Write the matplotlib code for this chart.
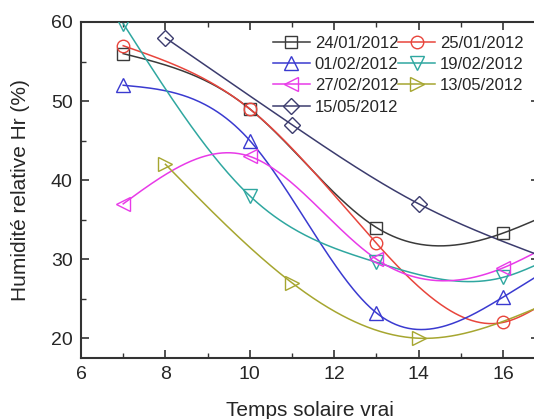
import numpy as np
import matplotlib
matplotlib.use("Agg")
import matplotlib.pyplot as plt
from matplotlib.ticker import MultipleLocator

# ---- data ----
labels = ["24/01/2012", "25/01/2012", "01/02/2012", "19/02/2012",
          "27/02/2012", "13/05/2012", "15/05/2012"]
x_a = [7, 10, 13, 16, 17]
x_b = [8, 11, 14, 17]
h_2401 = [56, 49, 34, 33.3, 35.5]
h_2501 = [57, 49, 32, 22, 24.5]
h_0102 = [52, 45, 23.2, 25.2, 28.5]
h_1902 = [59.8, 38, 29.6, 27.7, 29.8]
h_2702 = [37, 43, 30, 28.9, 31.5]
h_1305 = [42, 27, 20, 24.3]
h_1505 = [58, 47, 37, 30.2]

series = [
    (x_a, h_2401, "s", "#3a3a3a"),
    (x_a, h_2501, "o", "#e8453c"),
    (x_a, h_0102, "^", "#3a3ad0"),
    (x_a, h_1902, "v", "#2fa7a0"),
    (x_a, h_2702, "<", "#e83ae8"),
    (x_b, h_1305, ">", "#a6a630"),
    (x_b, h_1505, "D", "#3c3c6e"),
]


def natural_spline(x, y, n=300):
    x = np.asarray(x, float)
    y = np.asarray(y, float)
    k = len(x)
    h = np.diff(x)
    A = np.zeros((k, k))
    b = np.zeros(k)
    A[0, 0] = 1
    A[-1, -1] = 1
    for i in range(1, k - 1):
        A[i, i - 1] = h[i - 1]
        A[i, i] = 2 * (h[i - 1] + h[i])
        A[i, i + 1] = h[i]
        b[i] = 6 * ((y[i + 1] - y[i]) / h[i] - (y[i] - y[i - 1]) / h[i - 1])
    M = np.linalg.solve(A, b)
    xs = np.linspace(x[0], x[-1], n)
    ys = np.empty_like(xs)
    for j, xv in enumerate(xs):
        i = min(np.searchsorted(x, xv, side="right") - 1, k - 2)
        i = max(i, 0)
        t1 = x[i + 1] - xv
        t0 = xv - x[i]
        ys[j] = (M[i] * t1 ** 3 / (6 * h[i]) + M[i + 1] * t0 ** 3 / (6 * h[i])
                 + (y[i] / h[i] - M[i] * h[i] / 6) * t1
                 + (y[i + 1] / h[i] - M[i + 1] * h[i] / 6) * t0)
    return xs, ys


plt.rcParams["font.family"] = ["Liberation Sans", "DejaVu Sans"]
txt = "#262626"

fig = plt.figure(figsize=(5.34, 4.19), dpi=100)
ax = fig.add_axes([81 / 534, 61 / 419, 458 / 534, 336 / 419])

handles = []
for (xs, ys, mk, col), lab in zip(series, labels):
    sx, sy = natural_spline(xs, ys)
    ax.plot(sx, sy, color=col, lw=1.1, zorder=2)
    ms = 9 if mk in ("s", "o") else (8 if mk == "D" else 10)
    ax.plot(xs, ys, linestyle="none", marker=mk, ms=ms, mfc="none",
            mec=col, mew=1.0, zorder=3, clip_on=True)
    h, = ax.plot([], [], color=col, lw=1.1, marker=mk, ms=ms, mfc="none",
                 mec=col, mew=1.0, label=lab)
    handles.append(h)

ax.set_xlim(6, 16.85)
ax.set_ylim(17.5, 60)
ax.xaxis.set_major_locator(MultipleLocator(2))
ax.xaxis.set_minor_locator(MultipleLocator(1))
ax.yaxis.set_major_locator(MultipleLocator(10))
ax.yaxis.set_minor_locator(MultipleLocator(5))
ax.tick_params(which="both", direction="in", top=True, right=True,
               colors="#333333", labelcolor=txt)
ax.tick_params(which="major", length=6, width=1.2, labelsize=14, pad=6)
ax.tick_params(which="minor", length=3.5, width=1.0)
for sp in ax.spines.values():
    sp.set_linewidth(1.5)
    sp.set_color("#333333")

ax.set_xlabel("Temps solaire vrai", fontsize=15, color=txt, labelpad=13)
ax.set_ylabel("Humidité relative Hr (%)", fontsize=15, color=txt, labelpad=15)

order = [0, 2, 4, 6, 1, 3, 5]
leg = ax.legend([handles[i] for i in order], [labels[i] for i in order],
                ncol=2, frameon=False, fontsize=12, loc="upper left",
                bbox_to_anchor=(273 / 534, 1 - 36 / 419),
                bbox_transform=fig.transFigure, borderpad=0,
                handlelength=2.2, handletextpad=0.3, columnspacing=0.0,
                labelspacing=0.37, borderaxespad=0)
for t in leg.get_texts():
    t.set_color(txt)

fig.savefig("out.png", dpi=100)
